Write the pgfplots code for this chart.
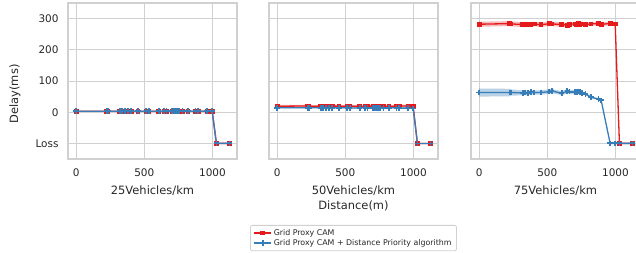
\documentclass[border=0pt]{standalone}
\usepackage{pgfplots}
\pgfplotsset{compat=1.18}
\usepackage{pgfplotstable}
\usepackage{fontspec}
\setmainfont{DejaVu Sans}
\definecolor{cred}{HTML}{E41A1C}
\definecolor{cblue}{HTML}{377EB8}
\definecolor{gridc}{HTML}{D0D0D0}
\definecolor{txt}{HTML}{262626}

\pgfplotstableread{
x r b
0 3 3
225 3 3
233 3 3
319 3 3
338 3 3
360 3 3
380 3 3
404 3 3
453 3 3
515 3 3
532 3 3
605 3 3
647 3 3
662 3 3
703 3 3
716 3 3
728 3 3
740 3 3
757 3 3
780 3 3
821 3 3
875 3 3
895 3 3
961 3 3
998 3 3
1029 -100 -100
1125 -100 -100
}\pone

\pgfplotstableread{
x r b
0 19 14
225 20 14
233 19 14
319 19 14
338 18 14
360 19 13
380 19 14
404 20 14
453 19 14
515 19 14
532 20 13
605 18 14
647 19 14
662 19 14
703 20 14
716 19 14
728 19 13
740 20 14
757 19 14
780 18 14
821 19 14
875 19 14
895 20 13
961 20 13
998 18 12
1029 -100 -100
1125 -100 -100
}\ptwo

\pgfplotstableread{
x r b
0 282 63
225 284 63
233 283 63
319 281 62
338 280 63
360 282 62
380 281 64
404 283 63
453 280 63
515 284 66
532 283 68
605 281 61
647 279 67
662 282 66
703 283 64
716 281 65
728 284 66
740 282 65
757 283 62
780 281 58
821 283 48
875 284 42
895 282 38
961 284 -100
998 283 -100
1029 -100 -100
1125 -100 -100
}\pthree

\pgfplotsset{
  panel/.style={
    width=169bp, height=156bp, scale only axis, anchor=south west,
    xmin=-60, xmax=1180, ymin=-150, ymax=350,
    xtick={0,500,1000}, ytick={-100,0,100,200,300},
    grid=major, major grid style={gridc, line width=1bp},
    axis line style={gridc, line width=1.25bp},
    major tick length=0pt,
    tick label style={font=\fontsize{10.5}{12}\selectfont, text=txt},
    /pgf/number format/assume math mode=true,
    /pgf/number format/1000 sep={},
    xticklabel shift=6bp, yticklabel shift=6bp,
    label style={font=\fontsize{11.5}{15}\selectfont, text=txt},
    xlabel style={at={(axis description cs:0.5,-0.192)}, anchor=north, yshift=7bp, align=center},
  },
  redl/.style={cred, line width=1.3bp, mark=square*, mark size=1.7bp, mark options={solid}},
  bluel/.style={cblue, line width=1.3bp, mark=+, mark size=2.8bp, mark options={solid, line width=1.8bp}},
  rband/.style={fill=cred, fill opacity=0.3, draw=none, mark=none, forget plot},
  bband/.style={fill=cblue, fill opacity=0.35, draw=none, mark=none, forget plot},
}

\begin{document}
\begin{tikzpicture}
\path[use as bounding box] (0,0) rectangle (636bp,253bp);

\begin{axis}[panel, at={(68bp,94bp)},
  yticklabels={Loss,0,100,200,300},
  xlabel={25Vehicles/km},
  ylabel={Delay(ms)},
  ylabel style={at={(axis description cs:-0.314,0.417)}, anchor=center}]
\addplot[redl] table[x=x, y=r]{\pone};
\addplot[bluel] table[x=x, y=b]{\pone};
\end{axis}

\begin{axis}[panel, at={(269bp,94bp)},
  yticklabels={},
  xlabel={50Vehicles/km\\Distance(m)},
  legend style={at={(axis description cs:0.5,-0.423)}, anchor=north,
    font=\fontsize{7.9}{9}\selectfont, text=txt, draw=gridc, line width=0.8bp,
    rounded corners=2pt, inner xsep=3bp, inner ysep=2bp, row sep=-1.5bp},
  legend cell align=left]
\addplot[rband] coordinates {
(0,23)(225,24)(233,23)(319,23)(338,22)(360,23)(380,23)(404,24)(453,23)(515,23)(532,24)(605,22)(647,23)(662,23)(703,24)(716,23)(728,23)(740,24)(757,23)(780,22)(821,23)(875,23)(895,24)(961,24)(998,22)
(998,14)(961,16)(895,16)(875,15)(821,15)(780,14)(757,15)(740,16)(728,15)(716,15)(703,16)(662,15)(647,15)(605,14)(532,16)(515,15)(453,15)(404,16)(380,15)(360,15)(338,14)(319,15)(233,15)(225,16)(0,15)};
\addplot[bband] coordinates {
(0,16)(225,16)(233,16)(319,16)(338,16)(360,15)(380,16)(404,16)(453,16)(515,16)(532,15)(605,16)(647,16)(662,16)(703,16)(716,16)(728,15)(740,16)(757,16)(780,16)(821,16)(875,16)(895,15)(961,15)(998,14)
(998,10)(961,11)(895,11)(875,12)(821,12)(780,12)(757,12)(740,12)(728,11)(716,12)(703,12)(662,12)(647,12)(605,12)(532,11)(515,12)(453,12)(404,12)(380,12)(360,11)(338,12)(319,12)(233,12)(225,12)(0,12)};
\addplot[redl] table[x=x, y=r]{\ptwo};
\addplot[bluel] table[x=x, y=b]{\ptwo};
\legend{Grid Proxy CAM, Grid Proxy CAM + Distance Priority algorithm}
\end{axis}

\begin{axis}[panel, at={(471bp,94bp)},
  yticklabels={},
  xlabel={75Vehicles/km}]
\addplot[rband] coordinates {
(0,290)(225,292)(233,291)(319,289)(338,287)(360,289)(380,288)(404,290)(453,287)(515,291)(532,290)(605,288)(647,286)(662,289)(703,290)(716,288)(728,291)(740,289)(757,290)(780,287)(821,289)(875,290)(895,288)(961,290)(998,289)
(998,277)(961,278)(895,276)(875,278)(821,277)(780,275)(757,276)(740,275)(728,277)(716,274)(703,276)(662,275)(647,272)(605,274)(532,276)(515,277)(453,273)(404,276)(380,274)(360,275)(338,273)(319,273)(233,275)(225,276)(0,274)};
\addplot[bband] coordinates {
(0,76)(225,75)(233,73)(319,70)(338,71)(360,69)(380,71)(404,70)(453,70)(515,73)(532,75)(605,67)(647,74)(662,73)(703,70)(716,71)(728,72)(740,71)(757,67)(780,62)(821,51)(875,45)(895,41)
(895,35)(875,39)(821,45)(780,54)(757,57)(740,59)(728,60)(716,59)(703,58)(662,59)(647,60)(605,55)(532,61)(515,59)(453,56)(404,56)(380,57)(360,55)(338,55)(319,54)(233,53)(225,51)(0,50)};
\addplot[redl] table[x=x, y=r]{\pthree};
\addplot[bluel] table[x=x, y=b]{\pthree};
\end{axis}
\end{tikzpicture}
\end{document}
